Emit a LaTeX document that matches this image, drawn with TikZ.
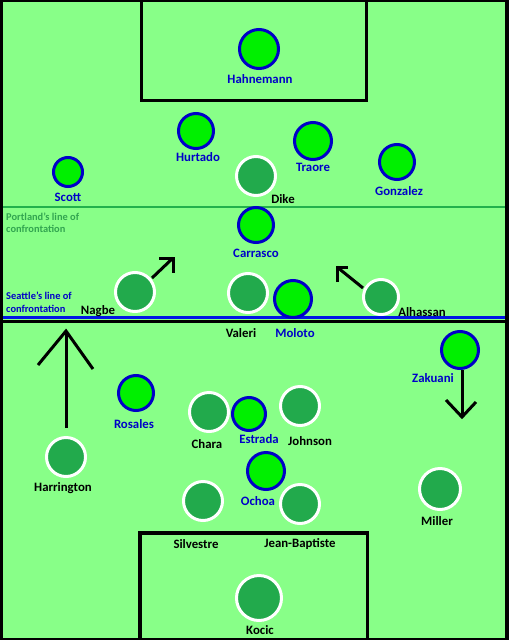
\documentclass[tikz,border=0pt]{standalone}
\usepackage{fontspec}
\setmainfont{Carlito}
\definecolor{field}{RGB}{136,255,136}
\definecolor{seafill}{RGB}{0,240,0}
\definecolor{seablue}{RGB}{0,0,200}
\definecolor{porfill}{RGB}{34,170,76}
\definecolor{porline}{RGB}{34,177,76}
\definecolor{portxt}{RGB}{50,165,80}
\definecolor{sealine}{RGB}{0,20,230}
\tikzset{
  sea/.style={circle, fill=seafill, draw=seablue, line width=3pt, inner sep=0pt},
  por/.style={circle, fill=porfill, draw=white, line width=3pt, inner sep=0pt},
  seatxt/.style={text=seablue, font=\bfseries\fontsize{12.8}{13}\selectfont, inner sep=0pt},
  portxtst/.style={text=black, font=\bfseries\fontsize{12.8}{13}\selectfont, inner sep=0pt},
  linetxt/.style={font=\bfseries\fontsize{10.4}{12.5}\selectfont, inner sep=0pt, anchor=west, align=left},
  runarrow/.style={draw=black, line width=3pt},
  markline/.style={draw=black, line width=3.5pt}
}
\begin{document}
\begin{tikzpicture}[x=1pt,y=-1pt]
\useasboundingbox (0,0) rectangle (509,640);
% frame and pitch
\fill[black] (0,0) rectangle (509,640);
\fill[field] (3,2) rectangle (505,638);
% lines
\fill[porline] (3,205.8) rectangle (505,207.8);
\fill[sealine] (3,316) rectangle (505,318.6);
\fill[black] (0,319.8) rectangle (509,322.6);
% penalty boxes
\draw[markline] (141.5,0) -- (141.5,100.5) -- (366.5,100.5) -- (366.5,0);
\draw[markline] (140,640) -- (140,533) -- (367.5,533) -- (367.5,640);
% line labels
\node[linetxt, text=portxt] (plabel) at (6,223) {Portland's line of\\confrontation};
\node[linetxt, text=seablue] (slabel) at (6,302) {Seattle's line of\\confrontation};
% Seattle players
\node[sea, minimum size=39pt] (hahnemann) at (259,49) {};
\node[sea, minimum size=35pt] (hurtado) at (196,131) {};
\node[sea, minimum size=37pt] (traore) at (313,141) {};
\node[sea, minimum size=29pt] (scott) at (68,172) {};
\node[sea, minimum size=35pt] (gonzalez) at (397,162) {};
\node[sea, minimum size=35pt] (carrasco) at (256,225) {};
\node[sea, minimum size=37pt] (moloto) at (293,299) {};
\node[sea, minimum size=35pt] (rosales) at (136,393) {};
\node[sea, minimum size=37pt] (zakuani) at (460,350) {};
\node[sea, minimum size=33pt] (estrada) at (249,414) {};
\node[sea, minimum size=37pt] (ochoa) at (266,471) {};
% Portland players
\node[por, minimum size=39pt] (dike) at (256,176) {};
\node[por, minimum size=39pt] (nagbe) at (135,292) {};
\node[por, minimum size=39pt] (valeri) at (248,293) {};
\node[por, minimum size=35pt] (alhassan) at (381,297) {};
\node[por, minimum size=39pt] (chara) at (209,412) {};
\node[por, minimum size=39pt] (johnson) at (300,406) {};
\node[por, minimum size=39pt] (harrington) at (66,457) {};
\node[por, minimum size=39pt] (silvestre) at (203,501) {};
\node[por, minimum size=39pt] (jeanbaptiste) at (300,504) {};
\node[por, minimum size=41pt] (miller) at (440,489) {};
\node[por, minimum size=45pt] (kocic) at (259,598) {};
% Seattle labels
\node[seatxt] (lhahnemann) at (260,79) {Hahnemann};
\node[seatxt] (lhurtado) at (198,157) {Hurtado};
\node[seatxt] (ltraore) at (313,167) {Traore};
\node[seatxt] (lscott) at (68,197) {Scott};
\node[seatxt] (lgonzalez) at (399,191) {Gonzalez};
\node[seatxt] (lcarrasco) at (256,253) {Carrasco};
\node[seatxt] (lmoloto) at (295,333) {Moloto};
\node[seatxt] (lrosales) at (134,424) {Rosales};
\node[seatxt] (lzakuani) at (433,378) {Zakuani};
\node[seatxt] (lestrada) at (259,439) {Estrada};
\node[seatxt] (lochoa) at (258,501) {Ochoa};
% Portland labels
\node[portxtst] (ldike) at (283,199) {Dike};
\node[portxtst] (lnagbe) at (98,311) {Nagbe};
\node[portxtst] (lvaleri) at (241,333) {Valeri};
\node[portxtst] (lalhassan) at (422,312) {Alhassan};
\node[portxtst] (lchara) at (207,444) {Chara};
\node[portxtst] (ljohnson) at (310,441) {Johnson};
\node[portxtst] (lharrington) at (63,488) {Harrington};
\node[portxtst] (lsilvestre) at (196,544) {Silvestre};
\node[portxtst] (ljeanbaptiste) at (300,544) {Jean-Baptiste};
\node[portxtst] (lmiller) at (437,521) {Miller};
\node[portxtst] (lkocic) at (260,630) {Kocic};
% movement arrows
\coordinate (nagbeS) at (152,278);
\coordinate (nagbeT) at (173,258);
\draw[runarrow] (nagbeS) -- (nagbeT);
\draw[runarrow, line join=miter] (159,258) -- (nagbeT) -- (173,273);
\coordinate (alhS) at (363,288);
\coordinate (alhT) at (337,267);
\draw[runarrow] (alhS) -- (alhT);
\draw[runarrow, line join=miter] (337,282) -- (alhT) -- (348,267);
\coordinate (harS) at (66,428);
\coordinate (harT) at (66,331);
\draw[runarrow] (harS) -- (harT);
\draw[runarrow, line join=miter] (38,365) -- (harT) -- (93,369);
\coordinate (zakS) at (462,370);
\coordinate (zakT) at (462,417);
\draw[runarrow] (zakS) -- (zakT);
\draw[runarrow, line join=miter] (446,400) -- (zakT) -- (476,402);
\end{tikzpicture}
\end{document}
